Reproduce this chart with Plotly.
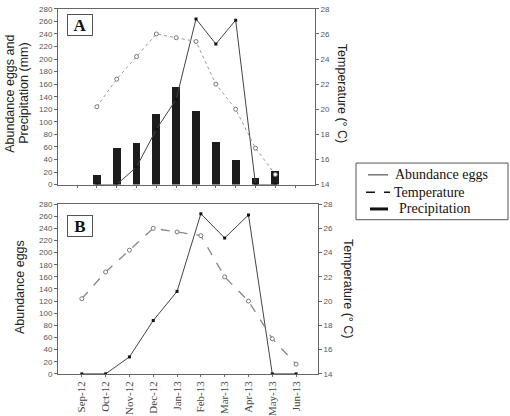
import plotly.graph_objects as go

months = ["Sep-12", "Oct-12", "Nov-12", "Dec-12", "Jan-13", "Feb-13",
          "Mar-13", "Apr-13", "May-13", "Jun-13"]
abundance = [0, 0, 28, 88, 136, 264, 224, 262, 0, 0]
temperature = [20.2, 22.4, 24.2, 26.0, 25.7, 25.4, 22.0, 20.0, 16.9, 14.8]
precipitation = [15, 59, 67, 113, 155, 118, 68, 40, 10, 22]

W, H = 510, 416
def px(x): return x / W
def py(y): return 1 - y / H

idxA = [i + 1 for i in range(len(months))]   # panel A uses shifted slots
idxB = list(range(len(months)))

fig = go.Figure()
# Panel A
fig.add_trace(go.Bar(x=idxA, y=precipitation, width=0.4, marker=dict(color="#1c1c1c", line=dict(width=0)),
                     xaxis="x", yaxis="y", showlegend=False))
fig.add_trace(go.Scatter(x=idxA, y=abundance, mode="lines+markers",
                         line=dict(color="#444", width=1), marker=dict(color="#111", size=3, symbol="square"),
                         xaxis="x", yaxis="y", showlegend=False))
fig.add_trace(go.Scatter(x=idxA, y=temperature, mode="lines+markers",
                         line=dict(color="#999", width=1, dash="dot"),
                         marker=dict(color="white", size=4, line=dict(color="#777", width=1)),
                         xaxis="x", yaxis="y2", showlegend=False))
# Panel B
fig.add_trace(go.Scatter(x=idxB, y=abundance, mode="lines+markers",
                         line=dict(color="#444", width=1), marker=dict(color="#111", size=3, symbol="square"),
                         xaxis="x2", yaxis="y3", showlegend=False))
fig.add_trace(go.Scatter(x=idxB, y=temperature, mode="lines+markers",
                         line=dict(color="#888", width=1.3, dash="dash"),
                         marker=dict(color="white", size=4, line=dict(color="#777", width=1)),
                         xaxis="x2", yaxis="y4", showlegend=False))

axc = "#666"
tickf = dict(family="Liberation Sans, Arial", size=8, color="#555")
common_y = dict(showline=True, linecolor=axc, linewidth=1, ticks="outside", ticklen=3,
                tickcolor=axc, tickfont=tickf, showgrid=False, zeroline=False)

fig.update_layout(
    width=W, height=H, margin=dict(l=0, r=0, t=0, b=0),
    paper_bgcolor="white", plot_bgcolor="white", bargap=0,
    xaxis=dict(domain=[px(58), px(315)], anchor="y", range=[-0.96, 12.0],
               tickvals=list(range(12)), ticktext=[""] + months + [""],
               tickfont=dict(family="Liberation Sans", size=2, color="#aaa"),
               showline=True, mirror=True, linecolor=axc, linewidth=1, ticks="outside", ticklen=2,
               tickcolor=axc, showgrid=False, zeroline=False),
    yaxis=dict(domain=[py(185), py(5)], anchor="x", range=[0, 280], dtick=20, **common_y),
    yaxis2=dict(overlaying="y", side="right", anchor="x", range=[14, 28], dtick=2, **common_y),
    xaxis2=dict(domain=[px(58), px(318)], anchor="y3", range=[-1, 9.92],
                tickvals=idxB, ticktext=months, tickangle=-90,
                tickfont=dict(family="Liberation Serif, Times New Roman", size=11, color="#444"),
                showline=True, mirror=True, linecolor=axc, linewidth=1, ticks="outside", ticklen=2,
                tickcolor=axc, showgrid=False, zeroline=False),
    yaxis3=dict(domain=[py(379), py(205)], anchor="x2", range=[0, 280], dtick=20, **common_y),
    yaxis4=dict(overlaying="y3", side="right", anchor="x2", range=[14, 28], dtick=2, **common_y),
)

title_font = dict(family="Liberation Sans, Arial", size=12.5, color="#222")
ann = []
ann.append(dict(x=px(10), y=py(92), text="Abundance eggs and", textangle=-90, font=title_font))
ann.append(dict(x=px(24), y=py(92), text="Precipitation (mm)", textangle=-90, font=title_font))
ann.append(dict(x=px(342), y=py(91), text="Temperature (° C)", textangle=90, font=title_font))
ann.append(dict(x=px(20), y=py(290), text="Abundance eggs", textangle=-90, font=title_font))
ann.append(dict(x=px(348), y=py(291), text="Temperature (° C)", textangle=90, font=title_font))
# panel letters
for lbl, yc in (("A", 21.5), ("B", 227.5)):
    ann.append(dict(x=px(79.5), y=py(yc), text="<b>%s</b>" % lbl, width=24, height=20,
                    bordercolor="#555", borderwidth=1, borderpad=0, bgcolor="white",
                    font=dict(family="Liberation Serif, Times New Roman", size=17, color="#111")))
# legend texts
legf = dict(family="Liberation Serif, Times New Roman", size=14, color="#111")
ann.append(dict(x=px(393), y=py(175), text="Abundance eggs", xanchor="left", font=legf))
ann.append(dict(x=px(392), y=py(193), text="Temperature", xanchor="left", font=legf))
ann.append(dict(x=px(397), y=py(210), text="Precipitation", xanchor="left", font=legf))
for a in ann:
    a.setdefault("xref", "paper"); a.setdefault("yref", "paper"); a.setdefault("showarrow", False)
    a.setdefault("xanchor", "center"); a.setdefault("yanchor", "middle")
fig.update_layout(annotations=ann)

shapes = [
    dict(type="rect", xref="paper", yref="paper", x0=px(356), x1=px(508), y0=py(221), y1=py(163),
         line=dict(color="#555", width=1)),
    dict(type="line", xref="paper", yref="paper", x0=px(368), x1=px(388), y0=py(175), y1=py(175),
         line=dict(color="#777", width=1.5)),
    dict(type="line", xref="paper", yref="paper", x0=px(366), x1=px(390), y0=py(193), y1=py(193),
         line=dict(color="#111", width=1.5, dash="dash")),
    dict(type="line", xref="paper", yref="paper", x0=px(370), x1=px(388), y0=py(210), y1=py(210),
         line=dict(color="#111", width=3)),
]
fig.update_layout(shapes=shapes)

fig.write_html("out.html", config={"displayModeBar": False},
               post_script="document.body.style.margin='0';document.body.style.overflow='hidden';")
